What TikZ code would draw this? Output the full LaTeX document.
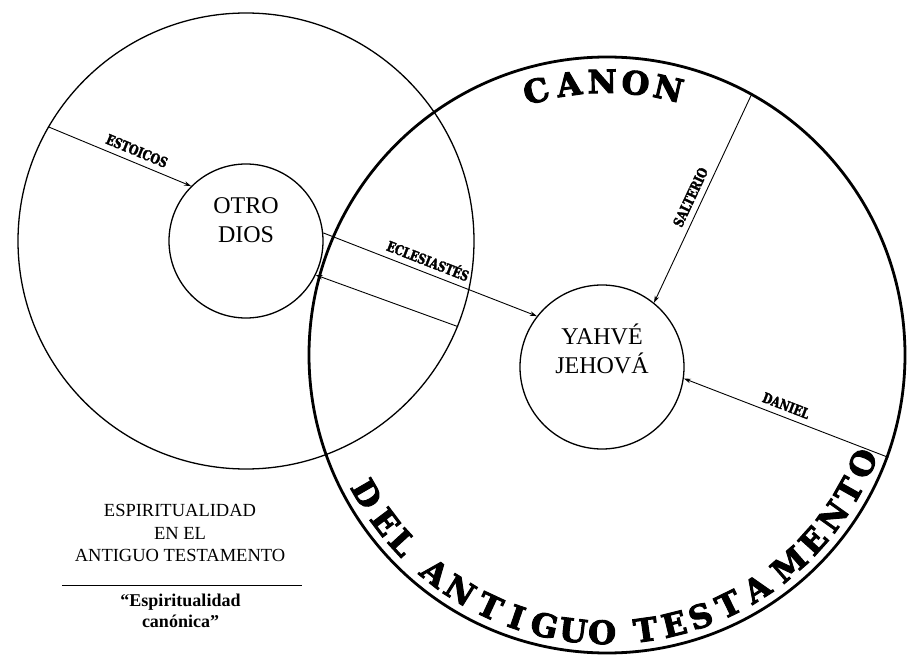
\documentclass[tikz,border=0pt]{standalone}
\usepackage{fontspec}
\setmainfont{Liberation Serif}
\newfontfamily\labfont{DejaVu Serif}[FakeStretch=0.78, FakeBold=2.2]
\newfontfamily\slabfont{DejaVu Serif}[FakeBold=3]
\usetikzlibrary{arrows.meta}
\begin{document}
\begin{tikzpicture}[x=1pt,y=1pt,
  ring/.style={circle, draw, inner sep=0pt, line width=1.3pt},
  arr/.style={-{Stealth[length=7pt,width=4.5pt]}, line width=0.9pt},
  lab/.style={font=\labfont\bfseries\fontsize{14}{14}\selectfont, sloped, above=4pt, inner sep=2pt},
  godtxt/.style={font=\fontsize{24}{29}\selectfont, align=center, inner sep=0pt},
  bigl/.style={font=\slabfont\bfseries\fontsize{32}{32}\selectfont, anchor=base, inner sep=0pt}
]
\path[fill=white, use as bounding box] (0,0) rectangle (911,657);

% circles
\node[ring, minimum size=456pt] (L) at (246,416) {};
\node[ring, minimum size=154pt] (O) at (246,416) {};
\node[circle, draw, inner sep=0pt, line width=2.8pt, minimum size=596pt] (R) at (607,302) {};
\node[ring, minimum size=164pt] (Y) at (602,290) {};

% circle texts
\node[godtxt] (otrotxt) at (246,437) {OTRO\\DIOS};
\node[godtxt] (yahvetxt) at (602,308) {YAHVÉ\\JEHOVÁ};

% connectors
\draw[arr] (L.150.9) -- node[lab, pos=0.59] {ESTOICOS} (O.135);
\draw[arr] (O.6.7) -- node[lab, pos=0.47] {ECLESIASTÉS} (Y.142.4);
\draw[arr] (L.-22.6) -- (O.-26.2);
\draw[arr] (R.61) -- node[lab, pos=0.52] {SALTERIO} (Y.51.9);
\draw[arr] (R.-20.9) -- node[lab, pos=0.52] {DANIEL} (Y.-8.4);

% curved titles
\foreach \a/\c [count=\i] in {105/C, 98/A, 91/N, 84/O, 77/N}
  \node[bigl, rotate=\a-90] (can\i) at ([shift={(\a:262)}]R.center) {\c};
\foreach \a/\c [count=\i] in {-150/D,-143/E,-137.5/L,-128.3/A,-122/N,-115/T,-109/I,-103/G,-97/U,-91/O,-82/T,-76/E,-70.3/S,-64/T,-57.3/A,-49/M,-42/E,-35.5/N,-29.3/T,-23/O}
  \node[bigl, rotate=\a+90] (del\i) at ([shift={(\a:289)}]R.center) {\c};

% title block
\node[font=\fontsize{18.5}{22.5}\selectfont, align=center, inner sep=0pt] (title) at (180,124)
  {ESPIRITUALIDAD\\EN EL\\ANTIGUO TESTAMENTO};
\coordinate (rl) at (62,72);
\coordinate (rr) at (302,72);
\draw[line width=0.9pt] (rl) -- (rr);
\node[font=\bfseries\fontsize{18}{21}\selectfont, align=center, inner sep=0pt] (sub) at (180.5,46.5)
  {“Espiritualidad\\canónica”};
\end{tikzpicture}
\end{document}
